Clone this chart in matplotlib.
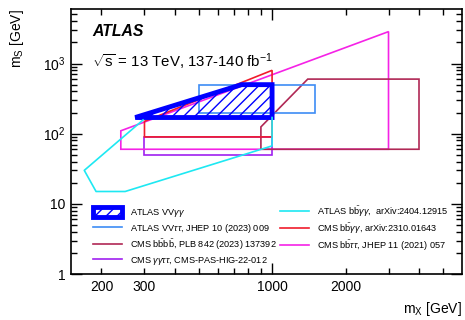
import matplotlib
matplotlib.use("Agg")
import matplotlib.pyplot as plt
from matplotlib.patches import Polygon

plt.rcParams['font.family'] = ['Liberation Sans', 'DejaVu Sans']
plt.rcParams['mathtext.fontset'] = 'custom'
plt.rcParams['mathtext.rm'] = 'Liberation Sans'
plt.rcParams['mathtext.it'] = 'Liberation Sans:italic'
plt.rcParams['mathtext.bf'] = 'Liberation Sans:bold'
plt.rcParams['hatch.linewidth'] = 1.0

# (mX, mS) outlines of the excluded/probed regions
vvyy_mx = [275, 750, 1000, 1000]
vvyy_ms = [170, 500, 500, 170]

vvtt_mx = [500, 1500, 1500, 500]
vvtt_ms = [200, 200, 500, 500]

bbbb_mx = [900, 900, 1400, 4000, 4000]
bbbb_ms = [60, 125, 600, 600, 60]

yytt_mx = [300, 1000, 1000, 300]
yytt_ms = [50, 50, 90, 90]

bbyy_atlas_mx = [296, 170, 190, 250, 1000, 1000]
bbyy_atlas_ms = [157, 30, 15, 15, 67, 170]

bbyy_cms_mx = [300, 300, 1000, 1000]
bbyy_cms_ms = [90, 150, 800, 90]

bbtt_mx = [240, 240, 3000, 3000]
bbtt_ms = [60, 110, 2850, 60]

labels = [
    r"ATLAS VV$\gamma\gamma$",
    r"ATLAS VV$\tau\tau$, JHEP 10 (2023) 009",
    r"CMS $\mathrm{b\bar{b}b\bar{b}}$, PLB 842 (2023) 137392",
    r"CMS $\gamma\gamma\tau\tau$, CMS-PAS-HIG-22-012",
    r"ATLAS $\mathrm{b\bar{b}}\gamma\gamma$,  arXiv:2404.12915",
    r"CMS $\mathrm{b\bar{b}}\gamma\gamma$, arXiv:2310.01643",
    r"CMS $\mathrm{b\bar{b}}\tau\tau$, JHEP 11 (2021) 057",
]

fig = plt.figure(figsize=(4.65, 3.2), dpi=100)
ax = fig.add_axes([0.1527, 0.14375, 0.8408, 0.8283])
ax.set_xscale('log')
ax.set_yscale('log')
ax.set_xlim(150, 6000)
ax.set_ylim(1, 6000)

lw = 1.2
h_cyan, = ax.plot(bbyy_atlas_mx, bbyy_atlas_ms, color='#1ee8f2', lw=lw)
p = Polygon(list(zip(yytt_mx, yytt_ms)), closed=True, fill=False,
            edgecolor='#a020f0', lw=lw)
ax.add_patch(p)
h_purple, = ax.plot([], [], color='#a020f0', lw=lw)
p = Polygon(list(zip(bbtt_mx, bbtt_ms)), closed=True, fill=False,
            edgecolor='#f522e6', lw=lw)
ax.add_patch(p)
h_mag, = ax.plot([], [], color='#f522e6', lw=lw)
p = Polygon(list(zip(bbbb_mx, bbbb_ms)), closed=True, fill=False,
            edgecolor='#b02855', lw=lw)
ax.add_patch(p)
h_maroon, = ax.plot([], [], color='#b02855', lw=lw)
p = Polygon(list(zip(bbyy_cms_mx, bbyy_cms_ms)), closed=True, fill=False,
            edgecolor='#f01c2c', lw=lw)
ax.add_patch(p)
h_red, = ax.plot([], [], color='#f01c2c', lw=lw)
p = Polygon(list(zip(vvtt_mx, vvtt_ms)), closed=True, fill=False,
            edgecolor='#3d8cf5', lw=lw)
ax.add_patch(p)
h_lblue, = ax.plot([], [], color='#3d8cf5', lw=lw)
h_blue = Polygon(list(zip(vvyy_mx, vvyy_ms)), closed=True, fill=False,
                 edgecolor='#0000ff', lw=3.5, hatch='///', joinstyle='miter')
ax.add_patch(h_blue)

handles = [h_blue, h_lblue, h_maroon, h_purple, h_cyan, h_red, h_mag]
ax.legend(handles, labels, ncol=2, loc='upper left',
          bbox_to_anchor=(0.056, 0.262), frameon=False, fontsize=6.6,
          borderpad=0, borderaxespad=0, handlelength=3.2, handleheight=1.2,
          handletextpad=0.85, columnspacing=0.35, labelspacing=0.25)

ax.text(92 / 465, 1 - 36 / 320, "ATLAS", transform=fig.transFigure,
        fontsize=11.3, fontweight='bold', fontstyle='italic', va='baseline')
ax.text(92 / 465, 1 - 67 / 320,
        r"$\sqrt{\mathrm{s}}$ = 13 TeV, 137-140 fb$^{-1}$",
        transform=fig.transFigure, fontsize=10.8, va='baseline')

ax.set_yticks([1, 10, 100, 1000], labels=['1', '10', r'$10^{2}$', r'$10^{3}$'])
ymin = [k * 10 ** e for e in range(0, 4) for k in range(2, 10)]
ymin = [v for v in ymin if v < 6000]
ax.set_yticks(ymin, minor=True)
ax.set_yticklabels(['' for _ in ymin], minor=True)

ax.set_xticks([1000], labels=['1000'])
xmin = [200, 300, 400, 500, 600, 700, 800, 900, 2000, 3000, 4000, 5000]
xlab = ['200', '300', '', '', '', '', '', '', '2000', '', '', '']
ax.set_xticks(xmin, labels=xlab, minor=True)

ax.tick_params(which='both', direction='in', top=True, right=True,
               labelsize=10, pad=4)
ax.tick_params(which='major', length=8, width=1)
ax.tick_params(which='minor', length=4, width=1)
for s in ax.spines.values():
    s.set_linewidth(1.2)

ax.set_xlabel(r"m$_\mathrm{X}$ [GeV]", loc='right', fontsize=10, labelpad=5)
ax.set_ylabel(r"m$_\mathrm{S}$ [GeV]", loc='top', fontsize=10, labelpad=12)

fig.savefig("out.png", dpi=100)
